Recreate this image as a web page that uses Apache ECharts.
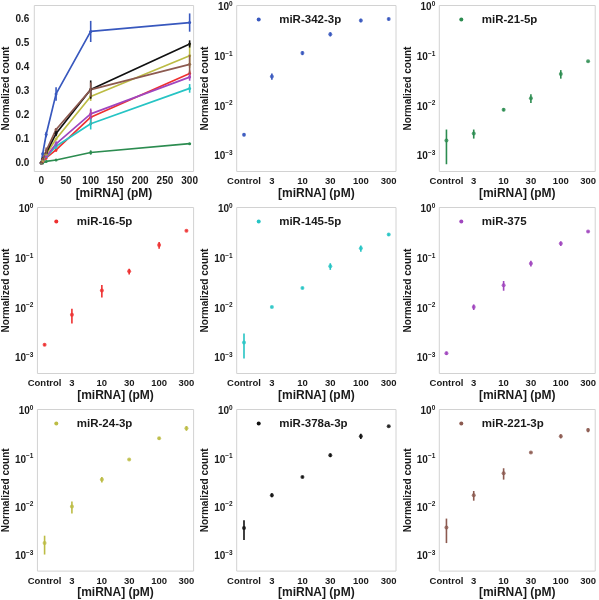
<!DOCTYPE html>
<html><head><meta charset="utf-8">
<script src="https://cdn.jsdelivr.net/npm/echarts@6/dist/echarts.min.js"></script>
<style>html,body{margin:0;padding:0;background:#fff}#c{width:599px;height:600px}</style>
</head><body><div id="c"></div>
<script>
// ---- data ----
const categories = ['Control', '3', '10', '30', '100', '300'];
const concLinear = [0, 3, 10, 30, 100, 300];     // panel 1 x positions (Control = 0)
const concLog = [1, 3, 10, 30, 100, 300];        // log panels x positions (Control = 1)
const xTicksLinear = [0, 50, 100, 150, 200, 250, 300];
const yTicksLinear = [0, 0.1, 0.2, 0.3, 0.4, 0.5, 0.6];
const yTicksLog = [0.001, 0.01, 0.1, 1];

const names = ['miR-342-3p', 'miR-21-5p', 'miR-16-5p', 'miR-145-5p', 'miR-375', 'miR-24-3p', 'miR-378a-3p', 'miR-221-3p'];
const colors = ['#3858be', '#2c8c50', '#ee3030', '#26c4c4', '#a046be', '#bcbc44', '#111111', '#8c5a50'];

const mean342 = [0.00275, 0.041, 0.121, 0.29, 0.55, 0.587];
const sd342   = [0.0002, 0.006, 0.011, 0.028, 0.044, 0.038];
const mean21  = [0.0021, 0.0029, 0.0088, 0.015, 0.046, 0.083];
const sd21    = [0.0014, 0.0006, 0.0006, 0.003, 0.009, 0.002];
const mean16  = [0.0019, 0.0076, 0.0235, 0.057, 0.193, 0.375];
const sd16    = [0.0001, 0.0025, 0.0066, 0.0075, 0.03, 0.012];
const mean145 = [0.0021, 0.0109, 0.0263, 0.072, 0.166, 0.313];
const sd145   = [0.0011, 0.0004, 0.0012, 0.011, 0.024, 0.018];
const mean375 = [0.00128, 0.0109, 0.0298, 0.082, 0.207, 0.36];
const sd375   = [0.0001, 0.0014, 0.0066, 0.011, 0.022, 0.015];
const mean24  = [0.0019, 0.0108, 0.039, 0.102, 0.279, 0.449];
const sd24    = [0.0008, 0.003, 0.005, 0.004, 0.018, 0.05];
const mean378 = [0.0039, 0.0186, 0.0443, 0.125, 0.308, 0.498];
const sd378   = [0.0017, 0.0017, 0.002, 0.011, 0.038, 0.015];
const mean221 = [0.004, 0.0185, 0.053, 0.142, 0.308, 0.413];
const sd221   = [0.0021, 0.0042, 0.014, 0.005, 0.03, 0.04];

const means = [mean342, mean21, mean16, mean145, mean375, mean24, mean378, mean221];
const sds = [sd342, sd21, sd16, sd145, sd375, sd24, sd378, sd221];

// ---- layout ----
const colLeft = [34.3, 236.7, 439.3];
const rowTop = [5.5, 207.5, 409.5];
const W = 159.3, H = 166;
const FONT = '"Liberation Sans", Arial, sans-serif';
const TXT = '#1a1a1a';

const grids = [], xAxes = [], yAxes = [], series = [], legends = [];

function errRender(color) {
  return function (params, api) {
    const x = api.value(0), lo = api.value(1), hi = api.value(2);
    const p1 = api.coord([x, lo]), p2 = api.coord([x, hi]);
    return { type: 'line', shape: { x1: p1[0], y1: p1[1], x2: p2[0], y2: p2[1] },
             style: { stroke: color, lineWidth: 1.6 } };
  };
}

for (let p = 0; p < 9; p++) {
  const r = Math.floor(p / 3), c = p % 3;
  grids.push({ left: colLeft[c], top: rowTop[r], width: W, height: H, show: true,
               borderColor: '#d2d2d2', borderWidth: 1, backgroundColor: '#fff', containLabel: false });
  const common = {
    gridIndex: p, axisLine: { show: false }, axisTick: { show: false }, splitLine: { show: false },
  };
  if (p === 0) {
    xAxes.push(Object.assign({}, common, {
      type: 'value', min: -14, max: 308, name: '[miRNA] (pM)', nameLocation: 'middle', nameGap: 15,
      nameTextStyle: { fontFamily: FONT, fontWeight: 'bold', color: TXT, fontSize: 12 },
      axisLabel: { customValues: xTicksLinear, margin: 5, fontFamily: FONT, fontWeight: 'bold', fontSize: 10, color: TXT }
    }));
    yAxes.push(Object.assign({}, common, {
      type: 'value', min: -0.033, max: 0.658, name: 'Normalized count', nameLocation: 'middle', nameGap: 16,
      nameTextStyle: { fontFamily: FONT, fontWeight: 'bold', color: TXT, fontSize: 10 },
      axisLabel: { customValues: yTicksLinear, margin: 5, fontFamily: FONT, fontWeight: 'bold', fontSize: 10, color: TXT,
                   formatter: v => v.toFixed(1) }
    }));
  } else {
    xAxes.push(Object.assign({}, common, {
      type: 'log', logBase: 10, min: 0.75, max: 400, name: '[miRNA] (pM)', nameLocation: 'middle', nameGap: 15,
      nameTextStyle: { fontFamily: FONT, fontWeight: 'bold', color: TXT, fontSize: 12 },
      axisLabel: { customValues: concLog, margin: 5, fontFamily: FONT, fontWeight: 'bold', fontSize: 9.5, color: TXT,
                   formatter: v => { const i = concLog.findIndex(c => Math.abs(c - v) < 1e-6 * Math.max(1, c)); return i >= 0 ? categories[i] : ''; } }
    }));
    yAxes.push(Object.assign({}, common, {
      type: 'log', logBase: 10, min: 0.0005, max: 1.1, name: 'Normalized count', nameLocation: 'middle', nameGap: 23,
      nameTextStyle: { fontFamily: FONT, fontWeight: 'bold', color: TXT, fontSize: 10 },
      axisLabel: { customValues: yTicksLog, margin: 4, color: TXT,
        formatter: v => { const e = Math.round(Math.log10(v)); return '{b|10}{s|' + (e === 0 ? '0' : '\u2212' + (-e)) + '}'; },
        rich: { b: { fontFamily: FONT, fontWeight: 'bold', fontSize: 10, color: TXT, lineHeight: 14 },
                s: { fontFamily: FONT, fontWeight: 'bold', fontSize: 6.5, color: TXT, verticalAlign: 'top', lineHeight: 8 } } }
    }));
  }
}

// panel 1: all lines with error bars
for (let k = 0; k < names.length; k++) {
  series.push({ type: 'line', name: names[k], xAxisIndex: 0, yAxisIndex: 0, color: colors[k],
    data: concLinear.map((c, j) => [c, means[k][j]]), symbol: 'circle', symbolSize: 3, showSymbol: true,
    lineStyle: { width: 1.7, color: colors[k] }, itemStyle: { color: colors[k] }, z: 2 });
  series.push({ type: 'custom', name: names[k] + ' err-lin', xAxisIndex: 0, yAxisIndex: 0,
    data: concLinear.map((c, j) => [c, means[k][j] - sds[k][j], means[k][j] + sds[k][j]]),
    encode: { x: 0, y: [1, 2] }, renderItem: errRender(colors[k]), z: 3 });
}
// panels 2-9: log-log scatter with error bars
for (let k = 0; k < names.length; k++) {
  const p = k + 1, r = Math.floor(p / 3), c = p % 3;
  series.push({ type: 'scatter', name: names[k], xAxisIndex: p, yAxisIndex: p, color: colors[k],
    data: concLog.map((x, j) => [x, means[k][j]]), symbol: 'circle', symbolSize: 4,
    itemStyle: { color: colors[k] }, z: 4 });
  series.push({ type: 'custom', name: names[k] + ' err-log', xAxisIndex: p, yAxisIndex: p,
    data: concLog.map((x, j) => [x, Math.max(means[k][j] - sds[k][j], 1e-6), means[k][j] + sds[k][j]]),
    encode: { x: 0, y: [1, 2] }, renderItem: errRender(colors[k]), z: 3 });
  legends.push({ data: [names[k]], left: colLeft[c] + 20, top: rowTop[r] + 7, padding: 0,
    icon: 'circle', itemWidth: 4, itemHeight: 4, selectedMode: false,
    textStyle: { fontFamily: FONT, fontWeight: 'bold', fontSize: 11.5, color: TXT, lineHeight: 14, padding: [0, 0, 0, 13.5] } });
}

const chart = echarts.init(document.getElementById('c'), null, { renderer: 'canvas' });
chart.setOption({ animation: false, backgroundColor: '#fff', grid: grids, xAxis: xAxes, yAxis: yAxes,
  series: series, legend: legends });
</script></body></html>
